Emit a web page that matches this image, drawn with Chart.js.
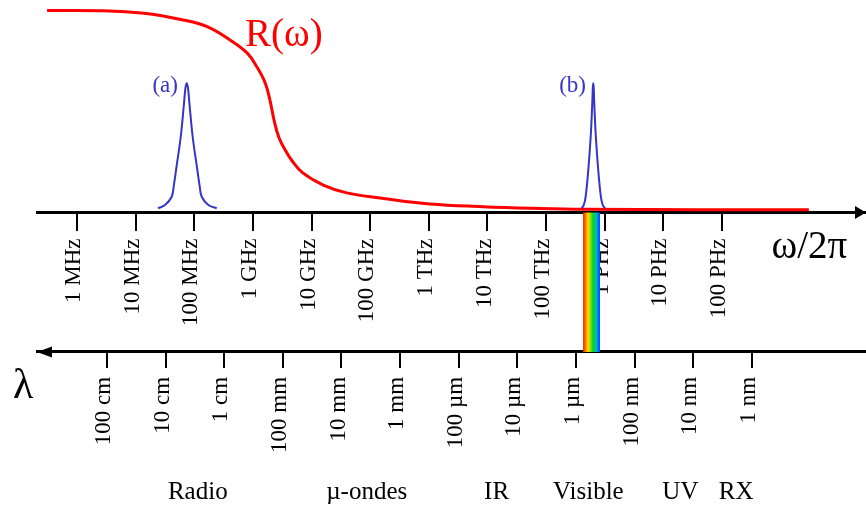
<!DOCTYPE html>
<html>
<head>
<meta charset="utf-8">
<script src="https://cdn.jsdelivr.net/npm/chart.js@4/dist/chart.umd.min.js"></script>
<style>
html,body{margin:0;padding:0;background:#fff;}
#wrap{position:relative;width:866px;height:509px;}
</style>
</head>
<body>
<div id="wrap"><canvas id="c"></canvas></div>
<script>
// ---- data (x in log10 of frequency in Hz) ----
const freqTickPos = [6, 7, 8, 9, 10, 11, 12, 13, 14, 15, 16, 17];
const freqTickLabels = ['1 MHz', '10 MHz', '100 MHz', '1 GHz', '10 GHz', '100 GHz',
                        '1 THz', '10 THz', '100 THz', '1 PHz', '10 PHz', '100 PHz'];

const wlTickPos = [6.51, 7.51, 8.51, 9.51, 10.51, 11.51, 12.51, 13.51, 14.51, 15.51, 16.51, 17.51];
const wlTickLabels = ['100 cm', '10 cm', '1 cm', '100 mm', '10 mm', '1 mm',
                      '100 µm', '10 µm', '1 µm', '100 nm', '10 nm', '1 nm'];

const reflLogF = [5.49, 6.39, 7.14, 7.81, 8.22, 8.61, 8.90, 9.07, 9.21, 9.29, 9.36, 9.44, 9.55,
                  9.67, 9.85, 10.20, 10.60, 11.17, 12.02, 12.92, 13.78, 14.63, 16.62, 18.48];
const reflValues = [1.000, 0.999, 0.986, 0.953, 0.920, 0.854, 0.790, 0.720, 0.641, 0.557, 0.458, 0.374, 0.309,
                    0.255, 0.196, 0.136, 0.097, 0.072, 0.042, 0.029, 0.021, 0.016, 0.014, 0.014];

const peakALogF = [7.382, 7.501, 7.615, 7.650, 7.689, 7.769, 7.825, 7.849, 7.871, 7.893, 7.917, 7.973, 8.053, 8.092, 8.127, 8.241, 8.383];
const peakAValues = [0.021, 0.037, 0.078, 0.131, 0.210, 0.375, 0.541, 0.616, 0.640, 0.616, 0.541, 0.375, 0.210, 0.131, 0.078, 0.037, 0.021];

const peakBLogF = [14.606, 14.642, 14.674, 14.719, 14.760, 14.787, 14.796, 14.804, 14.812, 14.821, 14.848, 14.889, 14.934, 14.966, 15.004];
const peakBValues = [0.021, 0.037, 0.078, 0.210, 0.375, 0.541, 0.616, 0.640, 0.616, 0.541, 0.375, 0.210, 0.078, 0.037, 0.021];

const visibleBand = [14.63, 14.92];

const regionNames = ['Radio', 'µ-ondes', 'IR', 'Visible', 'UV', 'RX'];
const regionCenters = [8.06, 10.94, 13.155, 14.72, 16.29, 17.24];

// ---- layout / style ----
const SERIF = "'Liberation Serif', 'Times New Roman', serif";
const X_MIN = 5.318, X_MAX = 19.455;
const Y_MIN = -1.4678, Y_MAX = 1.052;
const LAMBDA_AXIS_Y = -0.69;
const REGION_LABEL_Y = -1.418;
const BLUE = '#3535c8';
const RED = '#ff0000';

const annotations = [
  { text: 'R(ω)', x: 8.865, y: 0.824, color: RED, size: 39, align: 'left' },
  { text: '(a)', x: 7.722, y: 0.597, color: BLUE, size: 23, align: 'right' },
  { text: '(b)', x: 14.68, y: 0.597, color: BLUE, size: 23, align: 'right' },
  { text: 'ω/2π', x: 17.843, y: -0.227, color: '#000', size: 39, align: 'left' },
  { text: 'λ', x: 4.909, y: -0.918, color: '#000', size: 42, align: 'left' }
];

const toPts = (xs, ys) => xs.map((x, i) => ({ x: x, y: ys[i] }));

const decorPlugin = {
  id: 'decor',
  afterDraw(chart) {
    const ctx = chart.ctx;
    const xs = chart.scales.x, ys = chart.scales.y;
    const ca = chart.chartArea;
    ctx.save();
    // arrow heads
    ctx.fillStyle = '#000';
    const yTop = ys.getPixelForValue(0);
    ctx.beginPath();
    ctx.moveTo(ca.right, yTop);
    ctx.lineTo(ca.right - 11, yTop - 6.5);
    ctx.lineTo(ca.right - 11, yTop + 6.5);
    ctx.closePath();
    ctx.fill();
    const yLow = ys.getPixelForValue(LAMBDA_AXIS_Y);
    ctx.beginPath();
    ctx.moveTo(ca.left, yLow);
    ctx.lineTo(ca.left + 15, yLow - 5.5);
    ctx.lineTo(ca.left + 15, yLow + 5.5);
    ctx.closePath();
    ctx.fill();
    // annotations
    ctx.textBaseline = 'alphabetic';
    annotations.forEach(a => {
      ctx.font = a.size + 'px ' + SERIF;
      ctx.fillStyle = a.color;
      ctx.textAlign = a.align;
      ctx.fillText(a.text, xs.getPixelForValue(a.x), ys.getPixelForValue(a.y));
    });
    // region names
    ctx.font = '25px ' + SERIF;
    ctx.fillStyle = '#000';
    ctx.textAlign = 'center';
    regionNames.forEach((n, i) => {
      ctx.fillText(n, xs.getPixelForValue(regionCenters[i]), ys.getPixelForValue(REGION_LABEL_Y));
    });
    ctx.restore();
  }
};

Chart.defaults.font.family = SERIF;

const rainbowFill = (context) => {
  const chart = context.chart;
  if (!chart.chartArea) return 'rgba(0,0,0,0)';
  const xs = chart.scales.x;
  const x0 = xs.getPixelForValue(visibleBand[0]);
  const x1 = xs.getPixelForValue(visibleBand[1]);
  const g = chart.ctx.createLinearGradient(x0, 0, x1, 0);
  g.addColorStop(0.0, '#ff1a00');
  g.addColorStop(0.15, '#ff7a00');
  g.addColorStop(0.3, '#ffe000');
  g.addColorStop(0.45, '#7ee000');
  g.addColorStop(0.6, '#00d030');
  g.addColorStop(0.75, '#00c8a0');
  g.addColorStop(0.87, '#0080ff');
  g.addColorStop(1.0, '#0040ff');
  return g;
};

new Chart(document.getElementById('c'), {
  type: 'line',
  data: {
    datasets: [
      {
        data: toPts([visibleBand[0], visibleBand[0], visibleBand[1], visibleBand[1]], [0, LAMBDA_AXIS_Y, LAMBDA_AXIS_Y, 0]),
        borderWidth: 0, pointRadius: 0, tension: 0, fill: 'origin',
        backgroundColor: rainbowFill, borderColor: 'rgba(0,0,0,0)', order: 3
      },
      {
        data: toPts(reflLogF, reflValues),
        borderColor: RED, borderWidth: 3, pointRadius: 0, fill: false,
        tension: 0.4, order: 2
      },
      {
        data: toPts(peakALogF, peakAValues),
        borderColor: BLUE, borderWidth: 2, pointRadius: 0, fill: false,
        tension: 0.4, order: 1
      },
      {
        data: toPts(peakBLogF, peakBValues),
        borderColor: BLUE, borderWidth: 2, pointRadius: 0, fill: false,
        tension: 0.4, order: 1
      }
    ]
  },
  options: {
    responsive: true,
    maintainAspectRatio: false,
    animation: false,
    layout: { padding: { left: 37, right: 0, top: 0, bottom: 0 } },
    plugins: { legend: { display: false }, tooltip: { enabled: false } },
    scales: {
      y: { type: 'linear', display: false, min: Y_MIN, max: Y_MAX },
      x: {
        type: 'linear', min: X_MIN, max: X_MAX, position: { y: 0 }, z: 1,
        afterBuildTicks: (s) => { s.ticks = freqTickPos.map(v => ({ value: v })); },
        border: { display: true, color: '#000', width: 3 },
        grid: { display: true, drawOnChartArea: false, drawTicks: true, tickLength: 17, color: '#000', lineWidth: 2 },
        ticks: {
          minRotation: 90, maxRotation: 90, autoSkip: false, padding: 9, labelOffset: -3,
          color: '#000', font: { size: 23, family: SERIF },
          callback: (v, i) => freqTickLabels[i]
        }
      },
      xl: {
        type: 'linear', axis: 'x', min: X_MIN, max: X_MAX, position: { y: LAMBDA_AXIS_Y }, z: 1,
        afterBuildTicks: (s) => { s.ticks = wlTickPos.map(v => ({ value: v })); },
        border: { display: true, color: '#000', width: 3 },
        grid: { display: true, drawOnChartArea: false, drawTicks: true, tickLength: 15, color: '#000', lineWidth: 2 },
        ticks: {
          minRotation: 90, maxRotation: 90, autoSkip: false, padding: 10, labelOffset: -3,
          color: '#000', font: { size: 23, family: SERIF },
          callback: (v, i) => wlTickLabels[i]
        }
      }
    }
  },
  plugins: [decorPlugin]
});
</script>
</body>
</html>
